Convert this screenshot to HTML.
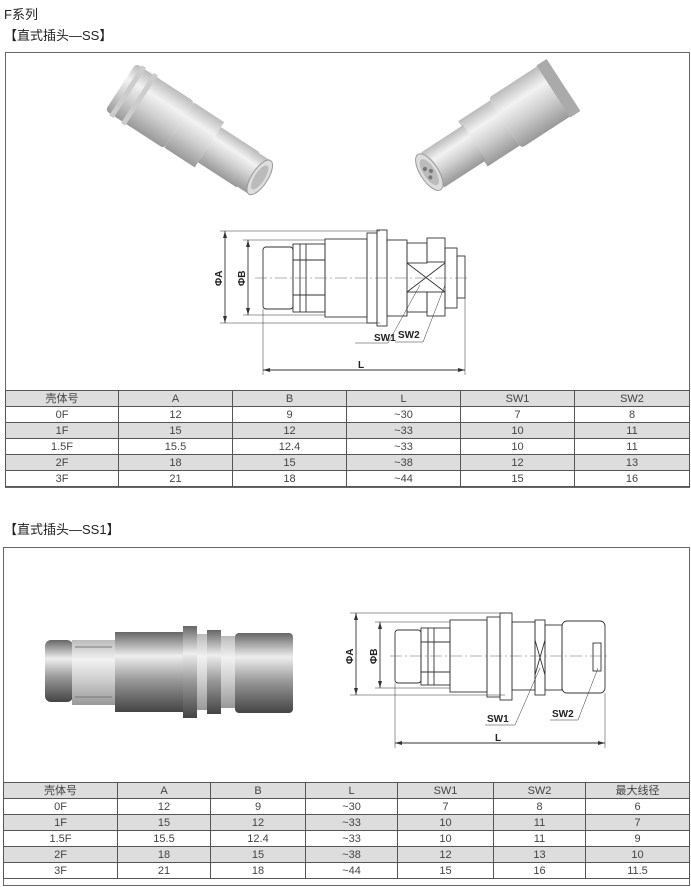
<!DOCTYPE html>
<html><head><meta charset="utf-8">
<style>
html,body{margin:0;padding:0;background:#fff;}
body{width:691px;height:887px;position:relative;overflow:hidden;font-family:"Liberation Sans","Noto Sans CJK SC",sans-serif;color:#222;}
.t{position:absolute;font-size:13px;white-space:nowrap;}
.box{position:absolute;border:1px solid #666;box-sizing:border-box;}
table{position:absolute;border-collapse:collapse;font-size:11px;color:#444;table-layout:fixed;}
td{border:1px solid #555;text-align:center;padding:0;height:15px;line-height:14px;}
tr.g td{background:#ddd;}
svg{position:absolute;left:0;top:0;}
</style></head><body>
<div class="t" style="left:4px;top:4px;">F系列</div>
<div class="t" style="left:4px;top:25px;">【直式插头—SS】</div>
<div class="box" style="left:5px;top:52px;width:685px;height:436px;"></div>
<table style="left:5px;top:390px;width:684px;">
<colgroup><col style="width:113px"><col style="width:114px"><col style="width:114px"><col style="width:114px"><col style="width:114px"><col style="width:115px"></colgroup>
<tr class="g"><td>壳体号</td><td>A</td><td>B</td><td>L</td><td>SW1</td><td>SW2</td></tr>
<tr><td>0F</td><td>12</td><td>9</td><td>~30</td><td>7</td><td>8</td></tr>
<tr class="g"><td>1F</td><td>15</td><td>12</td><td>~33</td><td>10</td><td>11</td></tr>
<tr><td>1.5F</td><td>15.5</td><td>12.4</td><td>~33</td><td>10</td><td>11</td></tr>
<tr class="g"><td>2F</td><td>18</td><td>15</td><td>~38</td><td>12</td><td>13</td></tr>
<tr><td>3F</td><td>21</td><td>18</td><td>~44</td><td>15</td><td>16</td></tr>
</table>

<div class="t" style="left:4px;top:519px;">【直式插头—SS1】</div>
<div class="box" style="left:3px;top:547px;width:687px;height:339px;"></div>
<table style="left:3px;top:782px;width:686px;">
<colgroup><col style="width:114px"><col style="width:93px"><col style="width:95px"><col style="width:92px"><col style="width:96px"><col style="width:92px"><col style="width:104px"></colgroup>
<tr class="g"><td>壳体号</td><td>A</td><td>B</td><td>L</td><td>SW1</td><td>SW2</td><td>最大线径</td></tr>
<tr><td>0F</td><td>12</td><td>9</td><td>~30</td><td>7</td><td>8</td><td>6</td></tr>
<tr class="g"><td>1F</td><td>15</td><td>12</td><td>~33</td><td>10</td><td>11</td><td>7</td></tr>
<tr><td>1.5F</td><td>15.5</td><td>12.4</td><td>~33</td><td>10</td><td>11</td><td>9</td></tr>
<tr class="g"><td>2F</td><td>18</td><td>15</td><td>~38</td><td>12</td><td>13</td><td>10</td></tr>
<tr><td>3F</td><td>21</td><td>18</td><td>~44</td><td>15</td><td>16</td><td>11.5</td></tr>
</table>

<svg width="691" height="887" viewBox="0 0 691 887">
<defs>
<linearGradient id="m" x1="0" y1="0" x2="0" y2="1">
<stop offset="0" stop-color="#bbb"/><stop offset=".3" stop-color="#f2f2f2"/><stop offset=".6" stop-color="#d0d0d0"/><stop offset="1" stop-color="#999"/></linearGradient>
<linearGradient id="d" x1="0" y1="0" x2="0" y2="1">
<stop offset="0" stop-color="#666"/><stop offset=".3" stop-color="#eee"/><stop offset=".6" stop-color="#999"/><stop offset="1" stop-color="#444"/></linearGradient>
</defs>
<!-- photo 1 left -->
<g transform="translate(196,136) rotate(33)">
<rect x="-90" y="-28" width="70" height="56" rx="4" fill="url(#m)"/>
<rect x="-84" y="-30" width="5" height="60" fill="#ccc"/><rect x="-70" y="-30" width="5" height="60" fill="#ccc"/>
<rect x="-20" y="-27" width="36" height="54" fill="url(#m)"/>
<rect x="16" y="-21" width="46" height="42" fill="url(#m)"/>
<rect x="56" y="-20" width="20" height="40" fill="url(#m)"/>
<ellipse cx="76" cy="0" rx="8" ry="20" fill="#ddd" stroke="#999"/>
<ellipse cx="76" cy="0" rx="5" ry="14" fill="#bbb"/>
</g>
<!-- photo 1 right -->
<g transform="translate(488,134) rotate(-33)">
<rect x="20" y="-30" width="70" height="60" rx="4" fill="url(#m)"/>
<rect x="78" y="-31" width="12" height="62" fill="#aaa"/>
<rect x="-18" y="-27" width="38" height="54" fill="url(#m)"/>
<rect x="-66" y="-21" width="50" height="42" fill="url(#m)"/>
<ellipse cx="-70" cy="0" rx="9" ry="21" fill="#ddd" stroke="#999"/>
<ellipse cx="-70" cy="0" rx="6" ry="15" fill="#bbb"/>
<circle cx="-72" cy="-5" r="2" fill="#777"/><circle cx="-72" cy="5" r="2" fill="#777"/><circle cx="-68" cy="0" r="2" fill="#777"/>
</g>
<!-- photo 2 -->
<g>
<rect x="45" y="640" width="28" height="62" rx="6" fill="url(#d)"/>
<rect x="72" y="640" width="45" height="65" fill="url(#m)"/>
<line x1="75" y1="647" x2="112" y2="647" stroke="#777"/><line x1="75" y1="697" x2="112" y2="697" stroke="#777"/>
<rect x="115" y="632" width="70" height="80" fill="url(#d)"/>
<rect x="183" y="626" width="14" height="92" fill="url(#d)"/>
<rect x="197" y="634" width="10" height="76" fill="url(#m)"/>
<rect x="207" y="630" width="14" height="84" fill="url(#d)"/>
<rect x="221" y="636" width="14" height="72" fill="url(#m)"/>
<rect x="235" y="633" width="58" height="80" rx="4" fill="url(#d)"/>
</g>
<g fill="none" stroke="#333" stroke-width="0.9">
<line x1="220" y1="231" x2="380" y2="231" stroke-width=".5"/><line x1="220" y1="323" x2="380" y2="323" stroke-width=".5"/>
<line x1="243" y1="240" x2="325" y2="240" stroke-width=".5"/><line x1="243" y1="315" x2="325" y2="315" stroke-width=".5"/>
<line x1="225" y1="231" x2="225" y2="323"/><line x1="248" y1="240" x2="248" y2="315"/>
<rect x="263" y="247" width="30" height="62" rx="3"/>
<rect x="293" y="244" width="32" height="68"/>
<line x1="293" y1="260" x2="325" y2="260"/><line x1="293" y1="295" x2="325" y2="295"/>
<line x1="300" y1="244" x2="300" y2="312"/><line x1="306" y1="244" x2="306" y2="312"/>
<rect x="325" y="239" width="42" height="78"/>
<rect x="367" y="233" width="10" height="90"/>
<rect x="377" y="230" width="10" height="96"/>
<rect x="387" y="240" width="20" height="76"/>
<rect x="407" y="243" width="20" height="20"/><rect x="407" y="292" width="20" height="20"/>
<rect x="427" y="238" width="18" height="24"/><rect x="427" y="292" width="18" height="24"/>
<rect x="445" y="248" width="12" height="60"/>
<rect x="457" y="256" width="8" height="42"/>
<line x1="407" y1="263" x2="445" y2="292"/><line x1="407" y1="292" x2="445" y2="263"/>
<line x1="263" y1="309" x2="263" y2="375" stroke-width=".5"/><line x1="465" y1="298" x2="465" y2="375" stroke-width=".5"/>
<line x1="263" y1="370" x2="465" y2="370"/>
<line x1="355" y1="343" x2="388" y2="343" stroke-width=".5"/><line x1="388" y1="343" x2="420" y2="285" stroke-width=".5"/>
<line x1="395" y1="342" x2="423" y2="342" stroke-width=".5"/><line x1="423" y1="342" x2="445" y2="285" stroke-width=".5"/>
<line x1="350" y1="613" x2="505" y2="613" stroke-width=".5"/><line x1="350" y1="695" x2="505" y2="695" stroke-width=".5"/>
<line x1="375" y1="622" x2="450" y2="622" stroke-width=".5"/><line x1="375" y1="688" x2="450" y2="688" stroke-width=".5"/>
<line x1="356" y1="613" x2="356" y2="695"/><line x1="380" y1="622" x2="380" y2="688"/>
<rect x="395" y="630" width="26" height="53" rx="3"/>
<rect x="421" y="628" width="29" height="57"/>
<line x1="421" y1="642" x2="450" y2="642"/><line x1="421" y1="672" x2="450" y2="672"/>
<line x1="428" y1="628" x2="428" y2="685"/><line x1="434" y1="628" x2="434" y2="685"/>
<rect x="450" y="620" width="37" height="72"/>
<rect x="487" y="617" width="13" height="80"/>
<rect x="500" y="613" width="12" height="87"/>
<rect x="512" y="622" width="23" height="68"/>
<rect x="535" y="620" width="10" height="75"/>
<line x1="535" y1="640" x2="545" y2="675"/><line x1="535" y1="675" x2="545" y2="640"/>
<rect x="545" y="625" width="17" height="65"/>
<rect x="562" y="621" width="43" height="72" rx="5"/>
<rect x="593" y="643" width="8" height="28"/>
<line x1="395" y1="683" x2="395" y2="748" stroke-width=".5"/><line x1="605" y1="693" x2="605" y2="748" stroke-width=".5"/>
<line x1="395" y1="743" x2="605" y2="743"/>
<line x1="485" y1="725" x2="515" y2="725" stroke-width=".5"/><line x1="515" y1="725" x2="540" y2="668" stroke-width=".5"/>
<line x1="550" y1="720" x2="578" y2="720" stroke-width=".5"/><line x1="578" y1="720" x2="598" y2="668" stroke-width=".5"/>
</g>
<g stroke="#666" stroke-width=".6" stroke-dasharray="12,3,2,3">
<line x1="255" y1="278" x2="470" y2="278"/>
<line x1="390" y1="656" x2="610" y2="656"/>
</g>
<g fill="#222" font-family="Liberation Sans, sans-serif" font-size="10" font-weight="bold">
<text x="374" y="341">SW1</text><text x="398" y="338">SW2</text><text x="358" y="368">L</text>
<text transform="translate(222,286) rotate(-90)">ΦA</text>
<text transform="translate(245,286) rotate(-90)">ΦB</text>
<text x="487" y="722">SW1</text><text x="552" y="717">SW2</text><text x="495" y="741">L</text>
<text transform="translate(353,664) rotate(-90)">ΦA</text>
<text transform="translate(377,664) rotate(-90)">ΦB</text>
</g>
<g fill="#333">
<polygon points="263,370 270,368 270,372"/><polygon points="465,370 458,368 458,372"/>
<polygon points="395,743 402,741 402,745"/><polygon points="605,743 598,741 598,745"/>
<polygon points="225,231 223,238 227,238"/><polygon points="225,323 223,316 227,316"/>
<polygon points="248,240 246,247 250,247"/><polygon points="248,315 246,308 250,308"/>
<polygon points="356,613 354,620 358,620"/><polygon points="356,695 354,688 358,688"/>
<polygon points="380,622 378,629 382,629"/><polygon points="380,688 378,681 382,681"/>
</g>
</svg>
</body></html>
